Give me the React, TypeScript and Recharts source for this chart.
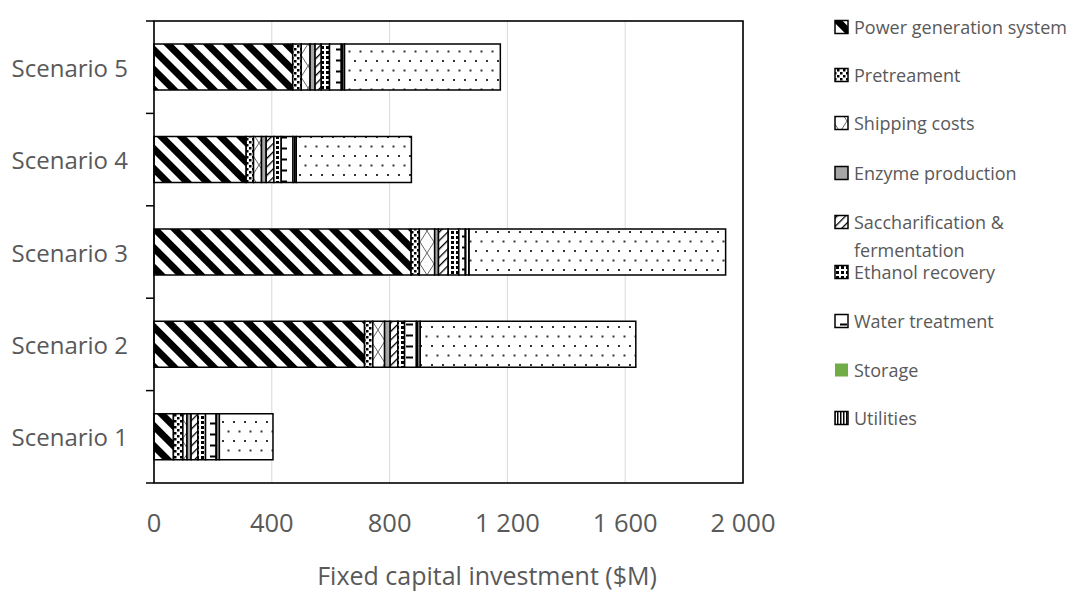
import React from 'react';
import { BarChart, Bar, XAxis, YAxis, CartesianGrid } from 'recharts';

// Fixed capital investment by process area ($M)
const scenarios = ['Scenario 1', 'Scenario 2', 'Scenario 3', 'Scenario 4', 'Scenario 5'];
const powerGeneration = [66, 715, 873, 313, 471];
const pretreatment = [32, 28, 28, 25, 29];
const shippingCosts = [14, 40, 52, 27, 30];
const enzymeProduction = [14, 19, 13, 16, 17];
const saccharification = [23, 26, 33, 26, 21];
const ethanolRecovery = [26, 23, 36, 25, 28];
const waterTreatment = [36, 40, 22, 40, 40];
const storage = [0, 0, 0, 0, 0];
const utilities = [11, 13, 13, 11, 11];
const otherEquipment = [182, 732, 871, 391, 529];

const xTicks = [0, 400, 800, 1200, 1600, 2000];

const series = [
  { key: 'power', name: 'Power generation system', values: powerGeneration, fill: 'url(#pPower)', legend: true },
  { key: 'pretreat', name: 'Pretreament', values: pretreatment, fill: 'url(#pPretreat)', legend: true },
  { key: 'shipping', name: 'Shipping costs', values: shippingCosts, fill: 'url(#pShipping)', legend: true },
  { key: 'enzyme', name: 'Enzyme production', values: enzymeProduction, fill: '#a6a6a6', legend: true },
  { key: 'sacch', name: 'Saccharification & fermentation', values: saccharification, fill: 'url(#pSacch)', legend: true },
  { key: 'ethanol', name: 'Ethanol recovery', values: ethanolRecovery, fill: 'url(#pEthanol)', legend: true },
  { key: 'water', name: 'Water treatment', values: waterTreatment, fill: 'url(#pWater)', legend: true },
  { key: 'storage', name: 'Storage', values: storage, fill: '#70ad47', legend: true },
  { key: 'utilities', name: 'Utilities', values: utilities, fill: 'url(#pUtilities)', legend: true },
  { key: 'other', name: 'Other equipment', values: otherEquipment, fill: 'url(#pOther)', legend: false },
];

const data = scenarios.map((name, i) => {
  const row: Record<string, string | number> = { name };
  series.forEach((s) => {
    row[s.key] = s.values[i];
  });
  return row;
});

// Layout
const W = 1090;
const H = 595;
const PLOT_LEFT = 154;
const PLOT_TOP = 21;
const PLOT_RIGHT = 743;
const PLOT_BOTTOM = 483;
const BAND = (PLOT_BOTTOM - PLOT_TOP) / scenarios.length;
const TEXT = '#595959';
const FONT = '"Open Sans", sans-serif';

const legendRows = [27, 75, 123, 173, 222, 272, 321, 370, 418];

const fmt = (v: number) => String(v).replace(/\B(?=(\d{3})+(?!\d))/g, ' ');

const CategoryTick = (props: any) => {
  const { y, payload, index } = props;
  return (
    <g>
      <text
        x={PLOT_LEFT - 26}
        y={y}
        textAnchor="end"
        dominantBaseline="central"
        fontSize={24}
        fill={TEXT}
        fontFamily={FONT}
      >
        {payload.value}
      </text>
      <line x1={PLOT_LEFT - 8} x2={PLOT_LEFT} y1={y - BAND / 2} y2={y - BAND / 2} stroke="#000" strokeWidth={1.5} />
      {index === 0 && (
        <line x1={PLOT_LEFT - 8} x2={PLOT_LEFT} y1={y + BAND / 2} y2={y + BAND / 2} stroke="#000" strokeWidth={1.5} />
      )}
    </g>
  );
};

const ValueTick = (props: any) => {
  const { x, payload } = props;
  return (
    <text x={x} y={522} textAnchor="middle" dominantBaseline="central" fontSize={25.5} fill={TEXT} fontFamily={FONT}>
      {fmt(payload.value)}
    </text>
  );
};

const Patterns = () => (
  <defs>
    <pattern id="pPower" width="14" height="14" patternUnits="userSpaceOnUse" patternTransform="rotate(-45)">
      <rect width="14" height="14" fill="#fff" />
      <rect width="7" height="14" fill="#000" />
    </pattern>
    <pattern id="pPretreat" width="6" height="6" patternUnits="userSpaceOnUse">
      <rect width="6" height="6" fill="#fff" />
      <rect x="0" y="0" width="2.5" height="2.5" fill="#000" />
      <rect x="3" y="3" width="2.5" height="2.5" fill="#000" />
    </pattern>
    <pattern id="pShipping" width="14" height="22" patternUnits="userSpaceOnUse">
      <rect width="14" height="22" fill="#fff" />
      <line x1="0" y1="0" x2="14" y2="22" stroke="#666" strokeWidth="1" />
      <line x1="14" y1="0" x2="0" y2="22" stroke="#666" strokeWidth="1" />
    </pattern>
    <pattern id="pSacch" width="6" height="6" patternUnits="userSpaceOnUse" patternTransform="rotate(45)">
      <rect width="6" height="6" fill="#fff" />
      <rect width="1.3" height="6" fill="#000" />
    </pattern>
    <pattern id="pEthanol" width="5" height="5" patternUnits="userSpaceOnUse">
      <rect width="5" height="5" fill="#fff" />
      <rect x="1" y="1" width="3" height="3" fill="#000" />
    </pattern>
    <pattern id="pWater" width="14" height="11" patternUnits="userSpaceOnUse">
      <rect width="14" height="11" fill="#fff" />
      <line x1="0" y1="5.5" x2="7" y2="5.5" stroke="#000" strokeWidth="2" />
    </pattern>
    <pattern id="pUtilities" width="3" height="3" patternUnits="userSpaceOnUse">
      <rect width="3" height="3" fill="#fff" />
      <rect width="1.5" height="3" fill="#000" />
    </pattern>
    <pattern id="pOther" width="11" height="19" patternUnits="userSpaceOnUse">
      <rect width="11" height="19" fill="#fff" />
      <rect x="2" y="3" width="2" height="2" fill="#333" />
      <rect x="7.5" y="12.5" width="2" height="2" fill="#333" />
    </pattern>
  </defs>
);

export default function App() {
  const legendItems = series.filter((s) => s.legend);
  return (
    <div style={{ position: 'absolute', left: 0, top: 0, width: W, height: H, background: '#fff', fontFamily: FONT }}>
      <svg width={0} height={0} style={{ position: 'absolute' }}>
        <Patterns />
      </svg>
      <BarChart
        width={W}
        height={H}
        data={data}
        layout="vertical"
        margin={{ top: PLOT_TOP, right: W - PLOT_RIGHT, bottom: 0, left: 0 }}
        barCategoryGap="25%"
      >
        <CartesianGrid horizontal={false} stroke="#d9d9d9" strokeWidth={1} />
        <XAxis
          type="number"
          domain={[0, 2000]}
          ticks={xTicks}
          interval={0}
          axisLine={false}
          tickLine={false}
          height={H - PLOT_BOTTOM}
          tick={<ValueTick />}
        />
        <YAxis
          type="category"
          dataKey="name"
          reversed
          width={PLOT_LEFT}
          axisLine={false}
          tickLine={false}
          interval={0}
          tick={<CategoryTick />}
        />
        {series.map((s) => (
          <Bar
            key={s.key}
            dataKey={s.key}
            name={s.name}
            stackId="fci"
            fill={s.fill}
            stroke={s.key === 'storage' ? 'none' : '#000'}
            strokeWidth={1.5}
            isAnimationActive={false}
          />
        ))}
      </BarChart>
      <svg width={W} height={H} style={{ position: 'absolute', left: 0, top: 0, pointerEvents: 'none' }}>
        <rect
          x={PLOT_LEFT}
          y={PLOT_TOP}
          width={PLOT_RIGHT - PLOT_LEFT}
          height={PLOT_BOTTOM - PLOT_TOP}
          fill="none"
          stroke="#000"
          strokeWidth={1.6}
        />
        <text x={487} y={575} textAnchor="middle" dominantBaseline="central" fontSize={25} fill={TEXT} fontFamily={FONT}>
          Fixed capital investment ($M)
        </text>
        {legendItems.map((s, i) => {
          const cy = legendRows[i];
          const two = s.key === 'sacch';
          return (
            <g key={s.key}>
              <rect
                x={835}
                y={cy - 6.5}
                width={13}
                height={13}
                fill={s.fill}
                stroke={s.key === 'storage' ? 'none' : '#000'}
                strokeWidth={1.5}
              />
              <text x={854} y={cy} dominantBaseline="central" fontSize={18} fill={TEXT} fontFamily={FONT}>
                {two ? (
                  <>
                    <tspan x={854}>Saccharification &amp;</tspan>
                    <tspan x={854} dy={28}>fermentation</tspan>
                  </>
                ) : (
                  s.name
                )}
              </text>
            </g>
          );
        })}
      </svg>
    </div>
  );
}
